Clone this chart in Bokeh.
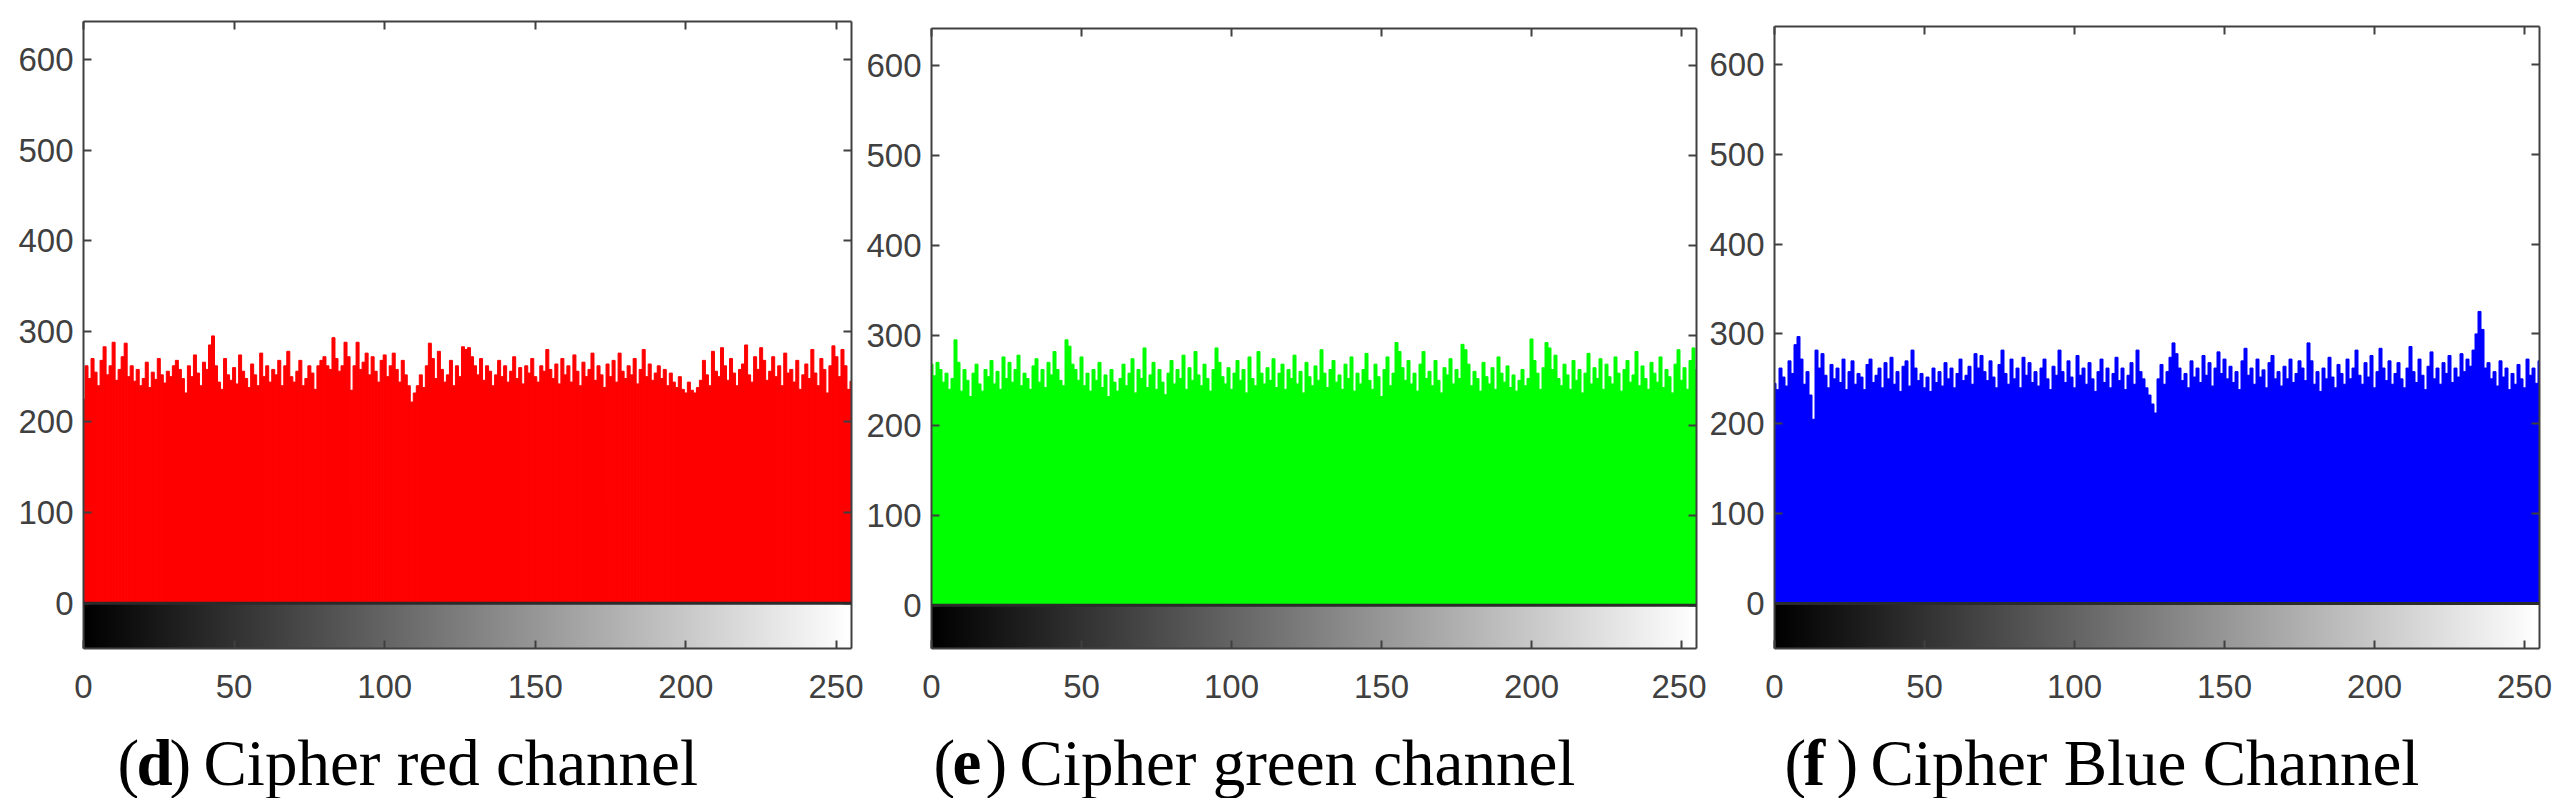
import numpy as np
from bokeh.embed import file_html
from bokeh.layouts import column, row
from bokeh.models import FixedTicker, Label, LinearAxis, LinearColorMapper, Range1d, Span
from bokeh.plotting import figure
from bokeh.resources import INLINE

# histogram counts, one per grey level
red_counts = [
    225, 262, 248, 270, 255, 240, 268, 283, 252, 262, 288, 246, 258, 272, 287, 250,
    262, 245, 258, 240, 248, 266, 238, 255, 247, 270, 252, 243, 256, 250, 262, 268,
    258, 248, 232, 262, 250, 274, 254, 240, 266, 258, 285, 295, 262, 244, 236, 270,
    252, 246, 260, 242, 274, 256, 248, 238, 264, 252, 240, 276, 250, 262, 244, 258,
    252, 268, 240, 262, 278, 250, 244, 256, 268, 240, 248, 262, 254, 236, 262, 268,
    272, 262, 258, 293, 270, 256, 262, 288, 272, 235, 262, 288, 258, 266, 276, 252,
    272, 256, 244, 268, 274, 250, 262, 276, 258, 244, 268, 252, 240, 222, 232, 240,
    252, 238, 262, 287, 270, 248, 278, 258, 244, 252, 268, 240, 262, 250, 283, 280,
    282, 272, 262, 252, 270, 246, 262, 256, 240, 252, 268, 250, 262, 244, 256, 272,
    248, 260, 242, 262, 254, 270, 250, 244, 262, 256, 280, 258, 248, 264, 242, 270,
    252, 262, 244, 274, 256, 240, 266, 250, 258, 276, 246, 262, 252, 238, 264, 250,
    268, 244, 276, 256, 248, 262, 252, 270, 242, 258, 280, 250, 264, 246, 254, 262,
    248, 258, 240, 254, 244, 238, 250, 236, 232, 244, 235, 232, 238, 246, 268, 252,
    240, 278, 256, 250, 282, 262, 246, 270, 254, 240, 258, 264, 285, 252, 244, 272,
    258, 282, 268, 246, 256, 272, 250, 262, 240, 276, 254, 258, 244, 268, 236, 252,
    264, 248, 280, 254, 240, 270, 258, 232, 262, 284, 272, 250, 280, 262, 236, 245,
]
green_counts = [
    268, 255, 270, 262, 248, 258, 240, 252, 295, 270, 238, 262, 250, 232, 258, 268,
    246, 238, 262, 254, 272, 246, 260, 240, 276, 252, 270, 248, 262, 278, 244, 258,
    252, 240, 266, 274, 248, 262, 242, 270, 256, 282, 262, 250, 244, 295, 288, 268,
    262, 250, 276, 244, 258, 238, 262, 250, 270, 242, 256, 232, 262, 248, 238, 252,
    268, 244, 258, 274, 236, 262, 252, 286, 242, 256, 270, 240, 262, 248, 234, 258,
    272, 246, 262, 252, 278, 240, 264, 250, 282, 256, 244, 268, 252, 238, 262, 286,
    270, 254, 246, 264, 240, 258, 272, 250, 262, 236, 276, 252, 244, 282, 258, 246,
    264, 250, 274, 242, 258, 268, 240, 262, 252, 278, 246, 260, 236, 270, 254, 244,
    266, 250, 284, 258, 242, 262, 272, 248, 256, 240, 268, 252, 276, 238, 258, 246,
    262, 280, 250, 240, 268, 254, 232, 262, 276, 244, 258, 292, 282, 264, 250, 272,
    246, 258, 238, 268, 282, 252, 260, 244, 272, 250, 236, 264, 256, 274, 246, 262,
    252, 290, 284, 268, 244, 260, 252, 238, 270, 254, 246, 264, 240, 276, 258, 248,
    266, 242, 256, 238, 250, 262, 244, 252, 296, 272, 258, 240, 264, 292, 286, 262,
    278, 252, 244, 268, 256, 240, 272, 250, 262, 236, 258, 280, 246, 264, 252, 274,
    240, 268, 254, 246, 276, 258, 238, 262, 272, 248, 256, 282, 244, 266, 252, 240,
    270, 258, 248, 276, 242, 262, 254, 236, 268, 284, 250, 264, 240, 272, 286, 262,
]
blue_counts = [
    245, 238, 262, 252, 242, 270, 256, 288, 297, 272, 244, 258, 232, 205, 282, 262,
    278, 254, 240, 266, 250, 262, 246, 272, 238, 258, 270, 244, 256, 252, 238, 266,
    272, 246, 254, 262, 240, 268, 250, 274, 244, 258, 236, 264, 270, 242, 282, 262,
    248, 256, 240, 252, 236, 262, 246, 258, 242, 268, 250, 262, 240, 256, 272, 248,
    254, 264, 244, 278, 262, 276, 258, 248, 270, 252, 240, 266, 282, 256, 244, 272,
    250, 262, 240, 274, 254, 268, 246, 258, 242, 262, 272, 250, 238, 264, 254, 282,
    258, 246, 270, 252, 240, 276, 254, 262, 244, 268, 250, 236, 258, 272, 246, 262,
    240, 256, 274, 248, 262, 238, 254, 268, 244, 282, 258, 250, 240, 232, 222, 212,
    250, 266, 244, 258, 274, 290, 278, 262, 248, 256, 240, 270, 252, 262, 246, 276,
    254, 268, 242, 262, 280, 256, 272, 250, 264, 246, 258, 238, 270, 284, 254, 262,
    244, 272, 252, 260, 240, 268, 276, 250, 258, 242, 264, 250, 272, 246, 256, 270,
    262, 248, 290, 270, 244, 258, 236, 262, 250, 274, 252, 240, 266, 256, 244, 272,
    250, 262, 282, 254, 244, 268, 252, 276, 240, 258, 284, 262, 248, 270, 244, 256,
    268, 250, 240, 262, 286, 258, 246, 272, 254, 238, 264, 280, 250, 262, 244, 268,
    256, 276, 246, 262, 252, 278, 258, 272, 264, 282, 300, 325, 305, 262, 268, 250,
    258, 242, 270, 252, 262, 238, 256, 244, 266, 250, 240, 272, 254, 262, 245, 270,
]
grey_levels = list(range(256))
x_ticks = [0, 50, 100, 150, 200, 250]
y_ticks = [0, 100, 200, 300, 400, 500, 600]
panel_letters = ["d", "e", "f"]
panel_captions = ["Cipher red channel", "Cipher green channel", "Cipher Blue Channel"]

TICK_FONT = "Liberation Sans"
AXIS_COLOR = "#404040"
FIG_HEIGHT = 710


def add_box_axis(p, side, ticks):
    ax = LinearAxis(ticker=FixedTicker(ticks=ticks), major_label_text_color=None,
                    major_label_text_font_size="1px", major_label_standoff=0,
                    minor_tick_line_color=None, major_tick_in=8, major_tick_out=0,
                    major_tick_line_color=AXIS_COLOR, major_tick_line_width=2,
                    axis_line_color=AXIS_COLOR, axis_line_width=2)
    p.add_layout(ax, side)


def hist_panel(counts, color, left, right, top, y_start, y_end, width):
    # frame_align off, the panels don't line up in the original
    p = figure(width=width, height=FIG_HEIGHT, output_backend="svg", toolbar_location=None,
               x_range=Range1d(0, 255), y_range=Range1d(y_start, y_end), frame_align=False,
               min_border_left=left, min_border_right=right,
               min_border_top=top, min_border_bottom=62)
    p.grid.visible = False
    p.outline_line_color = None
    p.background_fill_color = "white"

    p.vbar(x=grey_levels, top=counts, bottom=0, width=1.0, color=color)

    # grey scale strip under the histogram
    mapper = LinearColorMapper(palette=[f"#{v:02x}{v:02x}{v:02x}" for v in grey_levels], low=0, high=255)
    p.image(image=[np.array([grey_levels])], x=0, y=y_start, dw=255, dh=-y_start, color_mapper=mapper)
    p.add_layout(Span(location=0, dimension="width", line_color="#2b2b2b", line_width=3))

    for ax, ticks in ((p.xaxis[0], x_ticks), (p.yaxis[0], y_ticks)):
        ax.ticker = FixedTicker(ticks=ticks)
        ax.minor_tick_line_color = None
        ax.major_tick_in = 8
        ax.major_tick_out = 0
        ax.major_tick_line_color = AXIS_COLOR
        ax.major_tick_line_width = 2
        ax.axis_line_color = AXIS_COLOR
        ax.axis_line_width = 2
        ax.major_label_text_font = TICK_FONT
        ax.major_label_text_font_size = "33px"
        ax.major_label_text_color = AXIS_COLOR
    p.xaxis[0].major_label_standoff = 26
    p.yaxis[0].major_label_standoff = 10
    add_box_axis(p, "right", y_ticks)
    add_box_axis(p, "above", x_ticks)
    return p


p1 = hist_panel(red_counts, "#ff0000", 83, 12, 21, -50, 642, 863)
p2 = hist_panel(green_counts, "#00ff00", 65, 10, 28, -48, 641, 843)
p3 = hist_panel(blue_counts, "#0000ff", 66, 17, 26, -50, 642, 850)

# captions live in their own strip, labels get clipped at the frame otherwise
strip = figure(width=2556, height=88, output_backend="svg", toolbar_location=None,
               x_range=Range1d(0, 2556), y_range=Range1d(0, 88), frame_align=False,
               min_border_left=0, min_border_right=0, min_border_top=0, min_border_bottom=0)
strip.axis.visible = False
strip.grid.visible = False
strip.outline_line_color = None

font = dict(text_font="Liberation Serif", text_font_size="65px", text_color="black",
            x_units="screen", y_units="screen", y=36, text_baseline="alphabetic")
for letter, caption, x0 in zip(panel_letters, panel_captions, [117, 933, 1784]):
    strip.add_layout(Label(x=x0, text="(", **font))
    strip.add_layout(Label(x=x0 + 19, text=letter, text_font_style="bold", **font))
    strip.add_layout(Label(x=x0 + 52, text=")", **font))
    strip.add_layout(Label(x=x0 + 86, text=caption, **font))

layout = column(row(p1, p2, p3, spacing=0), strip, spacing=0)
open("out.html", "w").write(file_html(layout, INLINE))
